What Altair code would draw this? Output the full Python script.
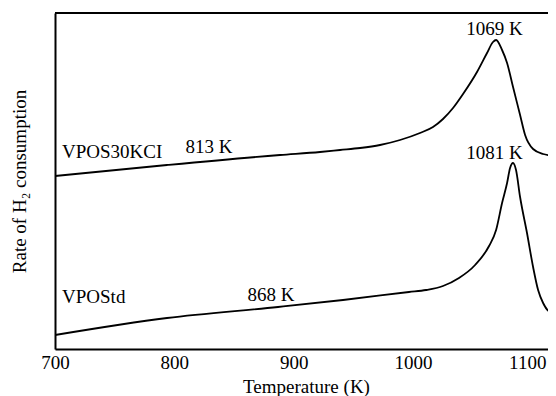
import altair as alt
import pandas as pd

# Temperature (K) and relative rate of H2 consumption (arbitrary units)
kcl_temp = [700, 793.9, 888.6, 922.1, 938.9, 955.7, 972.4, 989.2, 1005.9, 1016.8,
            1025.2, 1033.6, 1042.0, 1053.7, 1062.1, 1067.1, 1069.7, 1074.7, 1078.9,
            1083.9, 1089.8, 1094.0, 1100.7, 1109.1, 1120]
kcl_rate = [173, 184, 194, 197, 199, 201, 204, 209, 216, 222,
            230, 241, 255, 277, 296, 307, 309, 299, 286,
            262, 234, 214, 200, 195, 193]

std_temp = [700, 793.9, 886.9, 941.4, 996.7, 1011.0, 1025.2, 1038.6, 1052.1, 1063.8,
            1069.7, 1074.7, 1078.9, 1081.4, 1083.9, 1086.4, 1089.8, 1095.6, 1100.7,
            1104.9, 1109.1, 1114.9, 1120]
std_rate = [14, 31, 42, 49, 57, 59, 63, 71, 84, 103,
            119, 146, 166, 181, 186, 179, 152, 116, 82,
            59, 46, 37, 36]

label_text = ["1069 K", "1081 K", "813 K", "868 K"]
label_temp = [1068.4, 1068.4, 829.1, 881.1]
label_rate = [320, 196, 202, 54]

name_text = ["VPOS30KCI", "VPOStd"]
name_temp = [705.9, 705.9]
name_rate = [197, 52]

tick_values = [700, 800, 900, 1000, 1100]

FONT = "Liberation Serif"
FS = 19
PLOT_W = 493
PLOT_H = 336

curves = pd.DataFrame(
    {"T": kcl_temp + std_temp,
     "rate": kcl_rate + std_rate,
     "sample": ["VPOS30KCI"] * len(kcl_temp) + ["VPOStd"] * len(std_temp)}
)
labels = pd.DataFrame({"T": label_temp, "rate": label_rate, "text": label_text})
names = pd.DataFrame({"T": name_temp, "rate": name_rate, "text": name_text})

xscale = alt.Scale(domain=[700, 1113.2], nice=False, zero=False)
yscale = alt.Scale(domain=[0, 336], nice=False, zero=False)

xaxis = alt.Axis(values=tick_values, format="d", ticks=False, tickSize=0,
                 grid=False, domainColor="black", domainWidth=2,
                 labelFont=FONT, labelFontSize=FS, labelColor="black",
                 labelPadding=4, labelFlush=False, labelOverlap=False,
                 labelOffset={"condition": {"test": "datum.value === 1100", "value": -5},
                              "value": 0},
                 title="Temperature (K)", titleFont=FONT, titleFontSize=FS,
                 titleFontWeight="normal", titleColor="black", titlePadding=5,
                 titleX=251)
yaxis = alt.Axis(labels=False, ticks=False, tickSize=0, grid=False,
                 domainColor="black", domainWidth=2,
                 title="Rate of H\u2082 consumption", titleFont=FONT,
                 titleFontSize=FS, titleFontWeight="normal", titleColor="black",
                 titlePadding=26)

lines = alt.Chart(curves).mark_line(color="black", strokeWidth=1.8,
                                    interpolate="monotone", clip=True).encode(
    x=alt.X("T:Q", scale=xscale, axis=xaxis),
    y=alt.Y("rate:Q", scale=yscale, axis=yaxis),
    detail="sample:N",
)

peak_labels = alt.Chart(labels).mark_text(font=FONT, fontSize=FS, color="black",
                                          align="center", baseline="middle").encode(
    x=alt.X("T:Q", scale=xscale),
    y=alt.Y("rate:Q", scale=yscale),
    text="text:N",
)

name_labels = alt.Chart(names).mark_text(font=FONT, fontSize=FS, color="black",
                                         align="left", baseline="middle").encode(
    x=alt.X("T:Q", scale=xscale),
    y=alt.Y("rate:Q", scale=yscale),
    text="text:N",
)

top_border = alt.Chart(pd.DataFrame({"a": [0]})).mark_rule(
    color="black", strokeWidth=2).encode(
    x=alt.value(0), x2=alt.value(PLOT_W), y=alt.value(0)
)

chart = alt.layer(lines, peak_labels, name_labels, top_border).properties(
    width=PLOT_W, height=PLOT_H,
    autosize=alt.AutoSizeParams(type="none"),
    padding={"left": 47, "top": 5, "right": 0, "bottom": 47},
).configure_view(stroke=None).configure(background="white")

chart.save("out.html", embed_options={"renderer": "svg", "actions": False})
